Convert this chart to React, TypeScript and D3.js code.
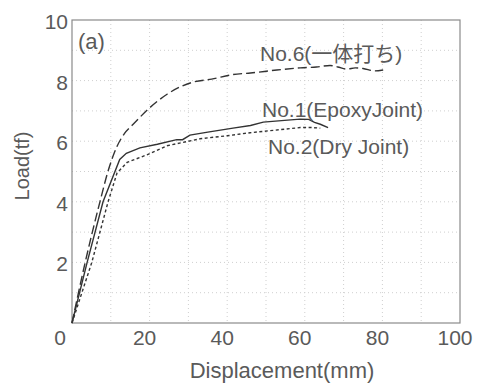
import React, { useRef, useEffect } from "react";
import * as d3 from "d3";

// Load-displacement curves
const no6Disp = [0, 3.4, 7.2, 9.5, 11.5, 13.5, 15.7, 20, 24.5, 28, 31.2, 36, 41.5, 46, 52.8, 58.8, 63, 66.5, 68.5, 70.9, 73, 75, 78, 80.2];
const no6Load = [0, 2.0, 4.0, 5.1, 5.8, 6.25, 6.55, 7.1, 7.55, 7.8, 7.95, 8.05, 8.2, 8.25, 8.35, 8.42, 8.45, 8.5, 8.45, 8.38, 8.42, 8.4, 8.32, 8.35];

const no1Disp = [0, 3.9, 8.0, 12.3, 14, 17.5, 22, 27, 28.5, 30.4, 35, 41.5, 46, 49.3, 54, 58.8, 61, 62.5, 64, 66];
const no1Load = [0, 2.0, 4.0, 5.4, 5.6, 5.78, 5.9, 6.05, 6.05, 6.2, 6.3, 6.43, 6.52, 6.63, 6.68, 6.73, 6.72, 6.62, 6.56, 6.45];

const no2Disp = [0, 5.1, 9.3, 11.6, 14.2, 19.3, 24.5, 33, 40, 45.9, 52, 58.8, 62, 64];
const no2Load = [0, 2.0, 4.0, 4.95, 5.3, 5.55, 5.85, 6.08, 6.18, 6.28, 6.36, 6.45, 6.45, 6.43];

const xTicks = [0, 20, 40, 60, 80, 100];
const yTicks = [0, 2, 4, 6, 8, 10];
const xGrid = [10, 20, 30, 40, 50, 60, 70, 80, 90];
const yGrid = [1, 2, 3, 4, 5, 6, 7, 8, 9];

const seriesLabels = ["No.6(一体打ち)", "No.1(EpoxyJoint)", "No.2(Dry Joint)"];

const LoadChart: React.FC = () => {
    const svgRef = useRef<SVGSVGElement | null>(null);

    useEffect(() => {
        if (!svgRef.current) return;
        const svg = d3.select(svgRef.current);
        svg.selectAll("*").remove();

        const margin = { top: 20, right: 24, bottom: 62, left: 72 };
        const width = 484;
        const height = 385;
        const font = "'Liberation Sans', Arial, sans-serif";
        const textColor = "#5a5a5a";

        const x = d3.scaleLinear().domain([0, 100]).range([margin.left, width - margin.right]);
        const y = d3.scaleLinear().domain([0, 10]).range([height - margin.bottom, margin.top]);

        // faint dotted grid
        const grid = svg.append("g").attr("stroke", "#cfcfcf").attr("stroke-width", 1).attr("stroke-dasharray", "1,3");
        grid.selectAll(".gx")
            .data(xGrid)
            .enter()
            .append("line")
            .attr("x1", (d) => x(d))
            .attr("x2", (d) => x(d))
            .attr("y1", y(10))
            .attr("y2", y(0));
        grid.selectAll(".gy")
            .data(yGrid)
            .enter()
            .append("line")
            .attr("x1", x(0))
            .attr("x2", x(100))
            .attr("y1", (d) => y(d))
            .attr("y2", (d) => y(d));

        // frame
        svg.append("rect")
            .attr("x", x(0))
            .attr("y", y(10))
            .attr("width", x(100) - x(0))
            .attr("height", y(0) - y(10))
            .attr("fill", "none")
            .attr("stroke", "#8a8a8a")
            .attr("stroke-width", 1.2);

        // tick labels
        svg.selectAll(".xt")
            .data(xTicks)
            .enter()
            .append("text")
            .attr("x", (d) => x(d) - (d === 0 ? 12 : 5))
            .attr("y", y(0) + 22)
            .attr("text-anchor", "middle")
            .attr("font-family", font)
            .attr("font-size", 21)
            .attr("fill", textColor)
            .text((d) => d);

        svg.selectAll(".yt")
            .data(yTicks.filter((d) => d > 0))
            .enter()
            .append("text")
            .attr("x", x(0) - 4)
            .attr("y", (d) => y(d) + 9)
            .attr("text-anchor", "end")
            .attr("font-family", font)
            .attr("font-size", 21)
            .attr("fill", textColor)
            .text((d) => d);

        // axis titles
        svg.append("text")
            .attr("x", 282)
            .attr("y", 378)
            .attr("text-anchor", "middle")
            .attr("font-family", font)
            .attr("font-size", 22)
            .attr("fill", textColor)
            .text("Displacement(mm)");

        svg.append("text")
            .attr("transform", "translate(29,166) rotate(-90)")
            .attr("text-anchor", "middle")
            .attr("font-family", font)
            .attr("font-size", 20)
            .attr("fill", textColor)
            .text("Load(tf)");

        svg.append("text")
            .attr("x", 78)
            .attr("y", 49)
            .attr("font-family", font)
            .attr("font-size", 22)
            .attr("fill", textColor)
            .text("(a)");

        // curves
        const curves = [
            { xs: no6Disp, ys: no6Load, dash: "9,4", smooth: true },
            { xs: no1Disp, ys: no1Load, dash: null, smooth: false },
            { xs: no2Disp, ys: no2Load, dash: "3,2.5", smooth: false },
        ];

        curves.forEach((c) => {
            const pts = c.xs.map((v, i) => [v, c.ys[i]] as [number, number]);
            const line = d3
                .line<[number, number]>()
                .x((d) => x(d[0]))
                .y((d) => y(d[1]))
                .curve(c.smooth ? d3.curveMonotoneX : d3.curveLinear);
            svg.append("path")
                .attr("d", line(pts))
                .attr("fill", "none")
                .attr("stroke", "#333")
                .attr("stroke-width", 1.4)
                .attr("stroke-dasharray", c.dash);
        });

        // curve labels
        const labelPos = [
            [260, 61],
            [262, 117],
            [268, 154],
        ];
        svg.selectAll(".lab")
            .data(seriesLabels)
            .enter()
            .append("text")
            .attr("x", (_d, i) => labelPos[i][0])
            .attr("y", (_d, i) => labelPos[i][1])
            .attr("font-family", (_d, i) => (i === 0 ? "'Liberation Sans', 'Noto Sans CJK JP', sans-serif" : font))
            .attr("font-size", 21)
            .attr("fill", textColor)
            .text((d) => d);
    }, []);

    return (
        <svg
            ref={svgRef}
            width={484}
            height={385}
            style={{ position: "absolute", left: 0, top: 0, background: "#fff" }}
        ></svg>
    );
};

export default function App() {
    return <LoadChart />;
}
